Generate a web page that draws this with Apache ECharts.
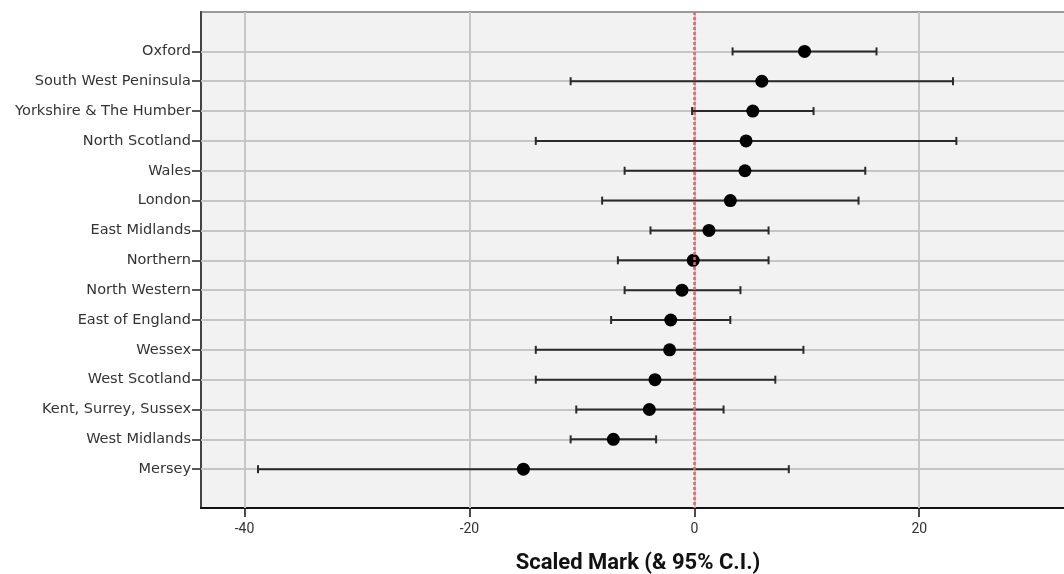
<!DOCTYPE html>
<html><head><meta charset="utf-8">
<script src="https://cdn.jsdelivr.net/npm/echarts@6/dist/echarts.min.js"></script>
<style>html,body{margin:0;padding:0;background:#fff}#c{width:1064px;height:574px}</style>
</head><body><div id="c"></div>
<script>
const categories = ['Oxford','South West Peninsula','Yorkshire & The Humber','North Scotland','Wales','London','East Midlands','Northern','North Western','East of England','Wessex','West Scotland','Kent, Surrey, Sussex','West Midlands','Mersey'];
const means  = [9.8, 6.0, 5.2, 4.6, 4.5, 3.2, 1.3, -0.1, -1.1, -2.1, -2.2, -3.5, -4.0, -7.2, -15.2];
const lowers = [3.4, -11.0, -0.2, -14.1, -6.2, -8.2, -3.9, -6.8, -6.2, -7.4, -14.1, -14.1, -10.5, -11.0, -38.8];
const uppers = [16.2, 23.0, 10.6, 23.3, 15.2, 14.6, 6.6, 6.6, 4.1, 3.2, 9.7, 7.2, 2.6, -3.4, 8.4];
const xTicks = [-40, -20, 0, 20];
const refValue = 0;

const rowIdx = categories.map((_, i) => i);
const chart = echarts.init(document.getElementById('c'), null, {renderer: 'canvas'});
const option = {
  animation: false,
  grid: {left: 201, right: -11, top: 12, bottom: 66, outerBoundsMode: 'none', containLabel: false,
         show: true, backgroundColor: '#f2f2f2', borderColor: '#9a9a9a', borderWidth: 2},
  xAxis: {
    type: 'value', min: -43.87, max: 33.85,
    axisLine: {show: true, onZero: false, lineStyle: {color: '#111', width: 2}},
    axisTick: {show: true, customValues: xTicks, length: 9, lineStyle: {color: '#111', width: 1.5}},
    axisLabel: {customValues: xTicks, margin: 14, fontSize: 14, color: '#333', fontFamily: '"Liberation Sans Narrow", "Roboto", sans-serif'},
    splitLine: {show: false},
    name: 'Scaled Mark (& 95% C.I.)', nameLocation: 'middle', nameGap: 44,
    nameTextStyle: {fontSize: 22, color: '#111', fontWeight: 'bold', fontFamily: '"Liberation Sans Narrow", "Roboto", sans-serif'}
  },
  yAxis: {
    type: 'value', inverse: true, min: -1.32, max: 15.3,
    axisLine: {show: true, onZero: false, lineStyle: {color: '#444', width: 2}},
    axisTick: {show: true, customValues: rowIdx, length: 9, lineStyle: {color: '#222', width: 1.5}},
    axisLabel: {customValues: rowIdx, formatter: v => categories[v], margin: 10, padding: [4, 0, 0, 0], fontSize: 14.5, color: '#333', fontFamily: '"DejaVu Sans", sans-serif'},
    splitLine: {show: false}
  },
  series: [
    {type: 'scatter', data: [], z: 1, silent: true,
     markLine: {z: 1, symbol: 'none', silent: true, animation: false, label: {show: false},
       lineStyle: {color: '#c6c6c6', width: 2, type: 'solid'},
       data: [...xTicks.map(v => ({xAxis: v})), ...rowIdx.map(i => ({yAxis: i}))]}},
    {type: 'custom', z: 3, silent: true,
     encode: {x: [0, 1], y: 2},
     data: rowIdx.map(i => [lowers[i], uppers[i], i]),
     renderItem: (params, api) => {
       const y = api.value(2);
       const p1 = api.coord([api.value(0), y]);
       const p2 = api.coord([api.value(1), y]);
       const h = 4;
       const style = {stroke: '#2a2a2a', lineWidth: 2};
       return {type: 'group', children: [
         {type: 'line', shape: {x1: p1[0], y1: p1[1], x2: p2[0], y2: p2[1]}, style},
         {type: 'line', shape: {x1: p1[0], y1: p1[1] - h, x2: p1[0], y2: p1[1] + h}, style},
         {type: 'line', shape: {x1: p2[0], y1: p2[1] - h, x2: p2[0], y2: p2[1] + h}, style}
       ]};
     }},
    {type: 'scatter', z: 4, symbolSize: 13, itemStyle: {color: '#000', opacity: 1}, data: rowIdx.map(i => [means[i], i])},
    {type: 'scatter', z: 10, data: [], silent: true,
     markLine: {z: 10, symbol: 'none', silent: true, animation: false, label: {show: false},
       lineStyle: {color: '#f06060', width: 2.5, type: [3, 2]}, data: [{xAxis: refValue}]}}
  ]
};
chart.setOption(option);
</script></body></html>
